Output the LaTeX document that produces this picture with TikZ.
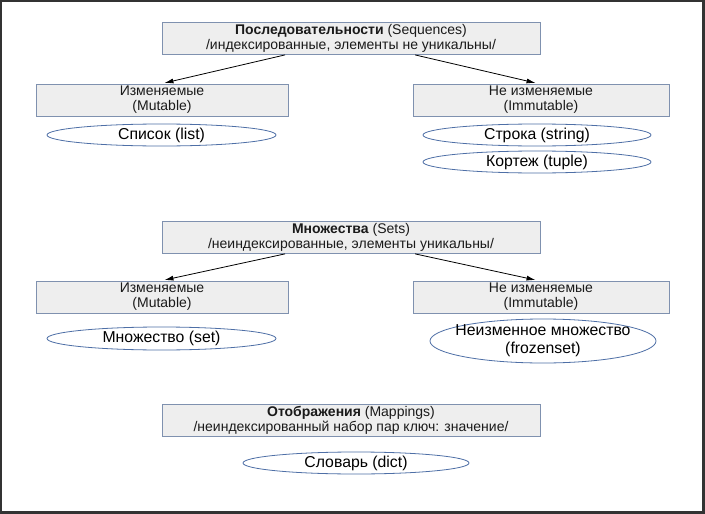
\documentclass[tikz,border=0pt]{standalone}
\usepackage{fontspec}
\setmainfont{Liberation Sans}
\usetikzlibrary{arrows.meta,shapes.geometric,calc}
\definecolor{boxfill}{HTML}{EEEEEE}
\definecolor{boxline}{HTML}{7F91AF}
\definecolor{ellline}{HTML}{4E6FA6}
\definecolor{frame}{HTML}{333333}
\definecolor{txt}{HTML}{1A1A1A}
\tikzset{
  catbox/.style={draw=boxline, fill=boxfill, line width=0.9pt, minimum width=378pt, minimum height=32pt, inner sep=0pt, align=center, text=txt, font=\fontsize{14}{15.2}\selectfont},
  subbox/.style={draw=boxline, fill=boxfill, line width=0.9pt, minimum height=32pt, inner sep=0pt, align=center, text=txt, font=\fontsize{14}{15.2}\selectfont},
  oval/.style={draw=ellline, line width=0.8pt, ellipse, inner sep=0pt, align=center, text=black, font=\fontsize{15.8}{18}\selectfont},
  link/.style={draw=black, line width=0.8pt, -{Latex[length=9pt,width=5pt]}, shorten <=2pt, shorten >=2.5pt}
}
\begin{document}
\begin{tikzpicture}[x=1pt,y=-1pt]
\useasboundingbox (0,0) rectangle (705,514);
\fill[frame] (0,0) rectangle (705,514);
\fill[white] (2,2) rectangle (702,511);
% Sequences
\node[catbox] (seq) at (351,38) {\textbf{Последовательности} (Sequences)\\/индексированные, элементы не уникальны/};
\node[subbox, minimum width=252pt] (seqmut) at (162,100) {Изменяемые\\(Mutable)};
\node[subbox, minimum width=256pt] (seqimm) at (541,100) {Не изменяемые\\(Immutable)};
\node[oval, minimum width=229pt, minimum height=22pt] (list) at (161.5,135) {Список (list)};
\node[oval, minimum width=228pt, minimum height=22pt] (str) at (537,135) {Строка (string)};
\node[oval, minimum width=228pt, minimum height=22pt] (tuple) at (537,162) {Кортеж (tuple)};
\draw[link] ($(seq.south west)!0.331!(seq.south east)$) -- (seqmut.north);
\draw[link] ($(seq.south west)!0.664!(seq.south east)$) -- ($(seqimm.north)+(-3,0)$);
% Sets
\node[catbox] (sets) at (351,237) {\textbf{Множества} (Sets)\\/неиндексированные, элементы уникальны/};
\node[subbox, minimum width=252pt] (setmut) at (162,297) {Изменяемые\\(Mutable)};
\node[subbox, minimum width=256pt] (setimm) at (541,297) {Не изменяемые\\(Immutable)};
\node[oval, minimum width=229pt, minimum height=23pt] (set) at (161.5,338.5) {Множество (set)};
\node[oval, inner xsep=-14pt, inner ysep=-5pt, minimum width=226pt, minimum height=44pt] (fset) at (543,341) {Неизменное множество\\(frozenset)};
\draw[link] ($(sets.south west)!0.331!(sets.south east)$) -- (setmut.north);
\draw[link] ($(sets.south west)!0.664!(sets.south east)$) -- ($(setimm.north)+(-3,0)$);
% Mappings
\node[catbox] (map) at (351,420.5) {\textbf{Отображения} (Mappings)\\/неиндексированный набор пар ключ: значение/};
\node[oval, minimum width=226pt, minimum height=22pt] (dict) at (356,463) {Словарь (dict)};
\end{tikzpicture}
\end{document}
